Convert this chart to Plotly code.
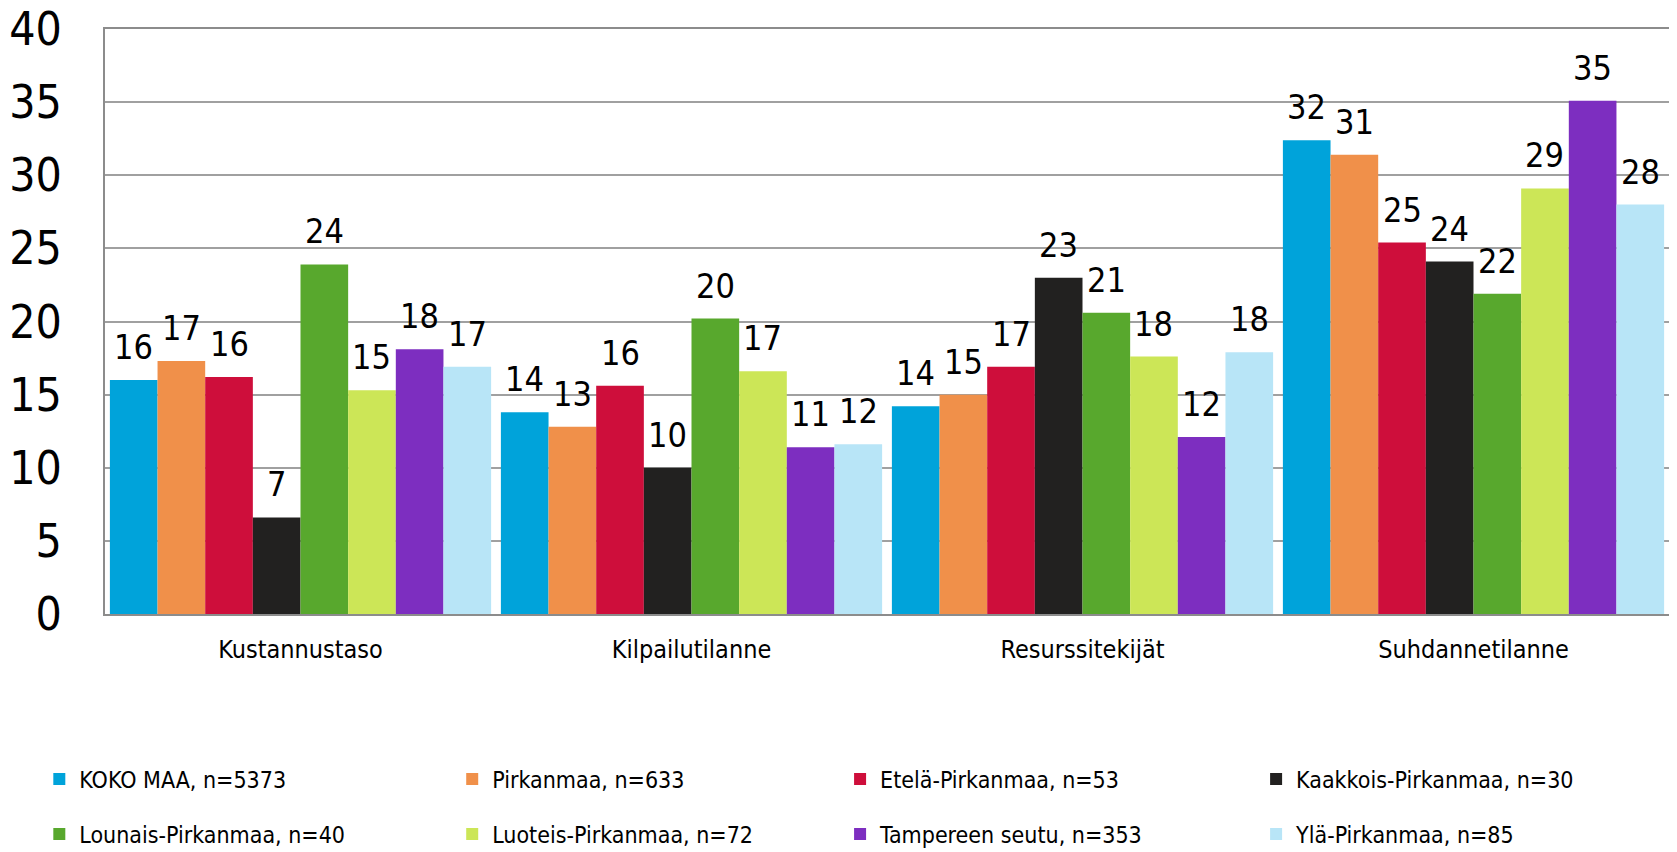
import plotly.graph_objects as go

categories = ["Kustannustaso", "Kilpailutilanne", "Resurssitekijät", "Suhdannetilanne"]

series_names = [
    "KOKO MAA, n=5373",
    "Pirkanmaa, n=633",
    "Etelä-Pirkanmaa, n=53",
    "Kaakkois-Pirkanmaa, n=30",
    "Lounais-Pirkanmaa, n=40",
    "Luoteis-Pirkanmaa, n=72",
    "Tampereen seutu, n=353",
    "Ylä-Pirkanmaa, n=85",
]

koko_maa = [16.0, 13.8, 14.2, 32.4]
pirkanmaa = [17.3, 12.8, 15.0, 31.4]
etela_pirkanmaa = [16.2, 15.6, 16.9, 25.4]
kaakkois_pirkanmaa = [6.6, 10.0, 23.0, 24.1]
lounais_pirkanmaa = [23.9, 20.2, 20.6, 21.9]
luoteis_pirkanmaa = [15.3, 16.6, 17.6, 29.1]
tampereen_seutu = [18.1, 11.4, 12.1, 35.1]
yla_pirkanmaa = [16.9, 11.6, 17.9, 28.0]

series_values = [koko_maa, pirkanmaa, etela_pirkanmaa, kaakkois_pirkanmaa,
                 lounais_pirkanmaa, luoteis_pirkanmaa, tampereen_seutu, yla_pirkanmaa]

colors = ["#00A3DA", "#F0904A", "#CE0E3B", "#222120",
          "#58A82D", "#CCE657", "#7D2EC0", "#B8E5F7"]

y_ticks = [0, 5, 10, 15, 20, 25, 30, 35, 40]

FONT = "DejaVu Sans Condensed, Liberation Sans Narrow, sans-serif"
BARGAP = 0.025

# legend layout: 4 columns x 2 rows (paper coords relative to plot area)
legend_cols_x = [-0.042, 0.222, 0.470, 0.736]
legend_rows_y = [-0.282, -0.376]

fig = go.Figure()
n = len(series_names)
for i, (name, vals, col) in enumerate(zip(series_names, series_values, colors)):
    lg = "legend" if i == 0 else f"legend{i + 1}"
    fig.add_trace(go.Bar(
        name=name, x=categories, y=vals,
        marker=dict(color=col, line=dict(width=0)),
        legend=lg, showlegend=True,
        hoverinfo="x+y+name",
    ))
    # value labels
    for j, v in enumerate(vals):
        off = (-0.5 + (i + 0.5) / n) * (1 - BARGAP)
        fig.add_annotation(
            x=j + off, y=v, xref="x", yref="y",
            text=f"{v:.0f}", showarrow=False,
            yanchor="bottom", yshift=11,
            font=dict(family=FONT, size=34, color="#000000"),
        )

legend_layouts = {}
for i in range(n):
    key = "legend" if i == 0 else f"legend{i + 1}"
    legend_layouts[key] = dict(
        orientation="h",
        x=legend_cols_x[i % 4], xanchor="left",
        y=legend_rows_y[i // 4], yanchor="middle",
        font=dict(family=FONT, size=23, color="#000000"),
        itemwidth=30, bgcolor="rgba(0,0,0,0)",
    )

fig.update_layout(
    width=1677, height=852,
    showlegend=True,
    barmode="group", bargap=BARGAP, bargroupgap=0,
    paper_bgcolor="white", plot_bgcolor="white",
    margin=dict(l=97, r=16, t=21, b=246, autoexpand=False),
    font=dict(family=FONT, color="#000000"),
    xaxis=dict(
        type="category", automargin=False,
        showline=True, linecolor="#8C8C8C", linewidth=2, mirror=True,
        ticks="", tickfont=dict(family=FONT, size=25, color="#000000"),
        ticklabelstandoff=12, ticklabeloverflow="allow",
    ),
    yaxis=dict(
        range=[0, 40], tickvals=y_ticks, automargin=False,
        showgrid=True, gridcolor="#A0A0A0", gridwidth=1.5,
        showline=True, linecolor="#8C8C8C", linewidth=2, mirror=True,
        ticks="", tickfont=dict(family=FONT, size=46, color="#000000"),
        ticklabelstandoff=32, zeroline=False, ticklabeloverflow="allow",
    ),
    **legend_layouts,
)

fig.write_html("out.html")
